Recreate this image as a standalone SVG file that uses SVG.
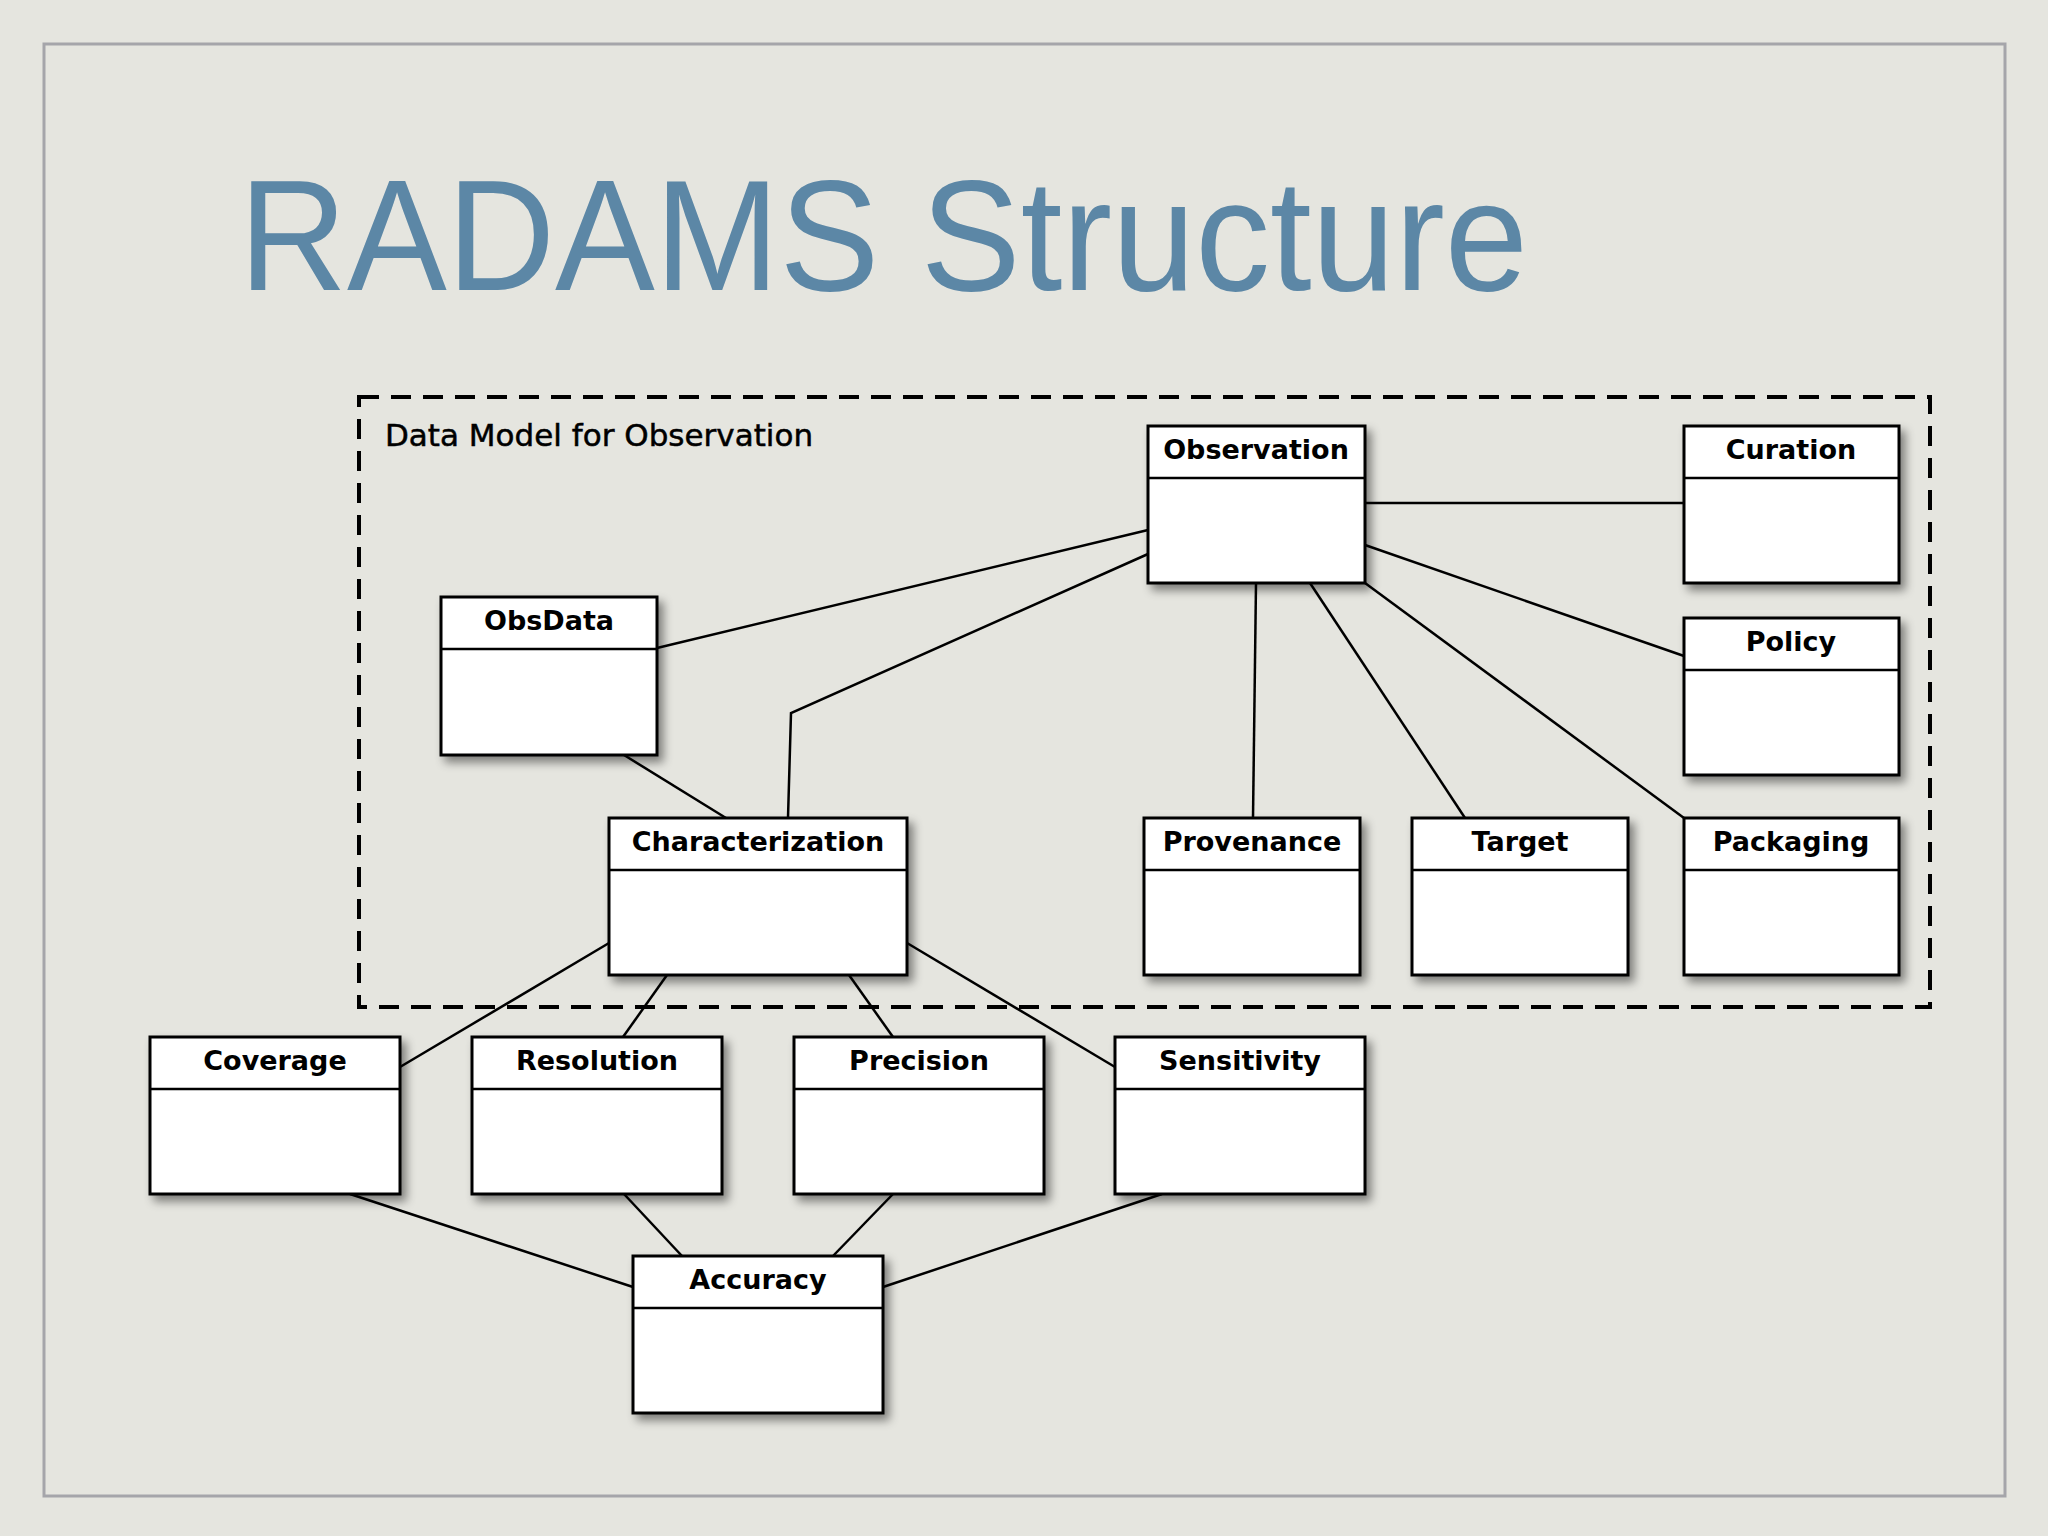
<svg xmlns="http://www.w3.org/2000/svg" width="2048" height="1536" viewBox="0 0 2048 1536">
<defs>
<filter id="sh" x="-20%" y="-20%" width="150%" height="150%"><feDropShadow dx="5" dy="6" stdDeviation="5" flood-color="#000" flood-opacity="0.45"/></filter>
<style>
.b{fill:#fff;stroke:#000;stroke-width:3}
.h{stroke:#000;stroke-width:2.5}
.t{font-family:"DejaVu Sans","Liberation Sans",sans-serif;font-weight:bold;font-size:27px;text-anchor:middle}
.c{stroke:#000;stroke-width:2.5;fill:none}
</style>
</defs>
<rect width="2048" height="1536" fill="#e5e5df"/>
<rect x="44" y="44" width="1961" height="1452" fill="none" stroke="#a5a5aa" stroke-width="3"/>
<text x="239" y="290" font-family="'Liberation Sans',Arial,sans-serif" font-size="158" fill="#5c87a6" textLength="1289" lengthAdjust="spacingAndGlyphs">RADAMS Structure</text>
<rect x="359" y="397" width="1571" height="610" fill="none" stroke="#000" stroke-width="4" stroke-dasharray="20,12"/>
<text x="385" y="446" font-family="'DejaVu Sans',sans-serif" font-size="31" stroke="#000" stroke-width="0.5">Data Model for Observation</text>
<g id="connectors" class="c">
<line x1="1365" y1="503" x2="1684" y2="503"/>
<line x1="1365" y1="545" x2="1684" y2="656"/>
<line x1="1365" y1="583" x2="1684" y2="818"/>
<line x1="1310" y1="583" x2="1465" y2="818"/>
<line x1="1256" y1="583" x2="1253" y2="818"/>
<line x1="1148" y1="530" x2="657" y2="648"/>
<polyline points="1148,554 791,713 788,818"/>
<line x1="624" y1="755" x2="726" y2="818"/>
<line x1="609" y1="943" x2="400" y2="1067"/>
<line x1="667" y1="975" x2="623" y2="1037"/>
<line x1="849" y1="975" x2="893" y2="1037"/>
<line x1="907" y1="943" x2="1115" y2="1067"/>
<line x1="350" y1="1194" x2="633" y2="1287"/>
<line x1="624" y1="1194" x2="682" y2="1256"/>
<line x1="893" y1="1194" x2="833" y2="1256"/>
<line x1="1162" y1="1194" x2="883" y2="1287"/>
</g>
<g id="observation"><rect class="b" filter="url(#sh)" x="1148" y="426" width="217" height="157"/><line class="h" x1="1148" y1="478" x2="1365" y2="478"/><text class="t" x="1256" y="459">Observation</text></g>
<g id="curation"><rect class="b" filter="url(#sh)" x="1684" y="426" width="215" height="157"/><line class="h" x1="1684" y1="478" x2="1899" y2="478"/><text class="t" x="1791" y="459">Curation</text></g>
<g id="policy"><rect class="b" filter="url(#sh)" x="1684" y="618" width="215" height="157"/><line class="h" x1="1684" y1="670" x2="1899" y2="670"/><text class="t" x="1791" y="651">Policy</text></g>
<g id="obsdata"><rect class="b" filter="url(#sh)" x="441" y="597" width="216" height="158"/><line class="h" x1="441" y1="649" x2="657" y2="649"/><text class="t" x="549" y="630">ObsData</text></g>
<g id="characterization"><rect class="b" filter="url(#sh)" x="609" y="818" width="298" height="157"/><line class="h" x1="609" y1="870" x2="907" y2="870"/><text class="t" x="758" y="851">Characterization</text></g>
<g id="provenance"><rect class="b" filter="url(#sh)" x="1144" y="818" width="216" height="157"/><line class="h" x1="1144" y1="870" x2="1360" y2="870"/><text class="t" x="1252" y="851">Provenance</text></g>
<g id="target"><rect class="b" filter="url(#sh)" x="1412" y="818" width="216" height="157"/><line class="h" x1="1412" y1="870" x2="1628" y2="870"/><text class="t" x="1520" y="851">Target</text></g>
<g id="packaging"><rect class="b" filter="url(#sh)" x="1684" y="818" width="215" height="157"/><line class="h" x1="1684" y1="870" x2="1899" y2="870"/><text class="t" x="1791" y="851">Packaging</text></g>
<g id="coverage"><rect class="b" filter="url(#sh)" x="150" y="1037" width="250" height="157"/><line class="h" x1="150" y1="1089" x2="400" y2="1089"/><text class="t" x="275" y="1070">Coverage</text></g>
<g id="resolution"><rect class="b" filter="url(#sh)" x="472" y="1037" width="250" height="157"/><line class="h" x1="472" y1="1089" x2="722" y2="1089"/><text class="t" x="597" y="1070">Resolution</text></g>
<g id="precision"><rect class="b" filter="url(#sh)" x="794" y="1037" width="250" height="157"/><line class="h" x1="794" y1="1089" x2="1044" y2="1089"/><text class="t" x="919" y="1070">Precision</text></g>
<g id="sensitivity"><rect class="b" filter="url(#sh)" x="1115" y="1037" width="250" height="157"/><line class="h" x1="1115" y1="1089" x2="1365" y2="1089"/><text class="t" x="1240" y="1070">Sensitivity</text></g>
<g id="accuracy"><rect class="b" filter="url(#sh)" x="633" y="1256" width="250" height="157"/><line class="h" x1="633" y1="1308" x2="883" y2="1308"/><text class="t" x="758" y="1289">Accuracy</text></g>
</svg>
